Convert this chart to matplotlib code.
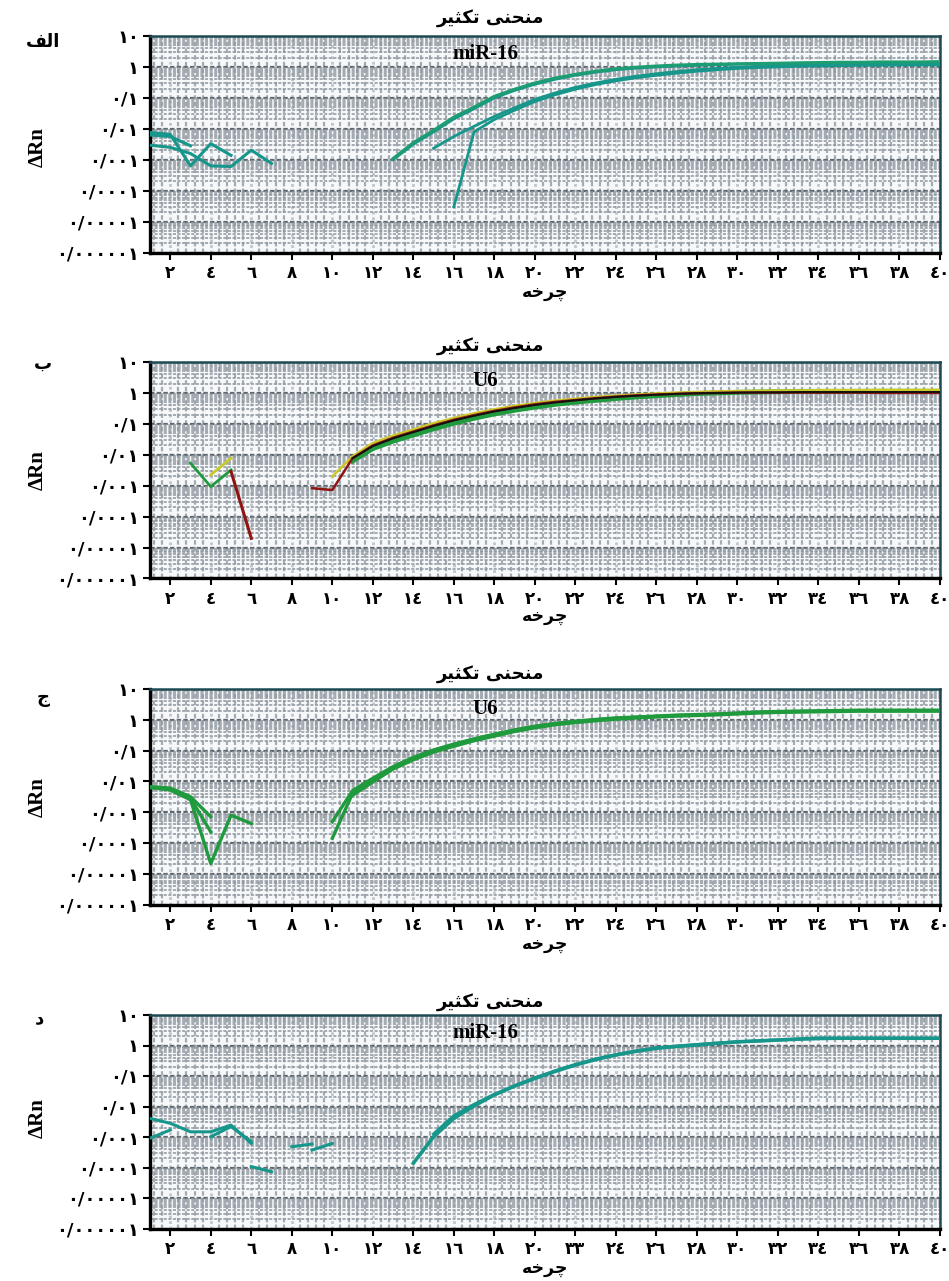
import numpy as np
import matplotlib
matplotlib.use('Agg')
import matplotlib.pyplot as plt
from matplotlib.ticker import FixedLocator, MultipleLocator, NullFormatter

plt.rcParams['font.family'] = ['Liberation Serif', 'DejaVu Sans']

# ---------------- text ----------------
title_text = 'منحنی تکثیر'
xlabel_text = 'چرخه'
ylabel_text = 'ΔRn'
panel_letters = ['الف', 'ب', 'ج', 'د']
gene_names = ['miR-16', 'U6', 'U6', 'miR-16']

y_tick_values = [1e-6, 1e-5, 1e-4, 1e-3, 1e-2, 1e-1, 1, 10]
y_tick_labels = ['٠/٠٠٠٠٠١', '٠/٠٠٠٠١', '٠/٠٠٠١', '٠/٠٠١', '٠/٠١', '٠/١', '١', '١٠']
x_tick_values = [2, 4, 6, 8, 10, 12, 14, 16, 18, 20, 22, 24, 26, 28, 30, 32, 34, 36, 38, 40]
x_tick_labels = ['٢', '٤', '٦', '٨', '١٠', '١٢', '١٤', '١٦', '١٨', '٢٠', '٢٢', '٢٤',
                 '٢٦', '٢٨', '٣٠', '٣٢', '٣٤', '٣٦', '٣٨', '٤٠']
x_tick_labels_d = ['٢', '٤', '٦', '٨', '١٠', '١٢', '١٤', '١٦', '١٨', '٢٠', '٣٣', '٢٤',
                   '٢٦', '٢٨', '٣٠', '٣٢', '٣٤', '٣٦', '٣٨', '٤٠']

# ---------------- data (log10 of ΔRn) ----------------
# Panel الف (miR-16)
a_n1_c = [1, 2, 3, 4, 5];            a_n1_v = [-2.12, -2.18, -3.2, -2.48, -2.86]
a_n2_c = [1, 2, 3, 4, 5, 6, 7];      a_n2_v = [-2.53, -2.6, -2.8, -3.2, -3.22, -2.69, -3.12]
a_n3_c = [1, 2, 3];                  a_n3_v = [-2.2, -2.25, -2.55]
a_up1_c = list(range(13, 41))
a_up1_v = [-2.96, -2.45, -2.05, -1.62, -1.3, -0.95, -0.72, -0.52, -0.36, -0.24, -0.14, -0.06,
           -0.01, 0.03, 0.06, 0.08, 0.09, 0.10, 0.11, 0.12, 0.13, 0.14, 0.15, 0.15, 0.16, 0.16,
           0.16, 0.17]
a_up2_c = list(range(13, 41))
a_up2_v = [-3.0, -2.5, -2.1, -1.68, -1.35, -1.0, -0.76, -0.56, -0.4, -0.27, -0.17, -0.09,
           -0.04, 0.0, 0.03, 0.05, 0.07, 0.09, 0.10, 0.11, 0.12, 0.13, 0.14, 0.14, 0.15, 0.15,
           0.15, 0.15]
a_lo1_c = list(range(15, 41))
a_lo1_v = [-2.63, -2.25, -1.92, -1.6, -1.32, -1.05, -0.84, -0.66, -0.52, -0.4, -0.3, -0.22,
           -0.15, -0.09, -0.05, -0.01, 0.02, 0.04, 0.06, 0.07, 0.08, 0.08, 0.09, 0.09, 0.09, 0.09]
a_lo2_c = list(range(16, 41))
a_lo2_v = [-4.52, -2.1, -1.7, -1.4, -1.12, -0.9, -0.72, -0.57, -0.45, -0.35, -0.27, -0.2,
           -0.14, -0.09, -0.05, -0.02, 0.0, 0.02, 0.03, 0.04, 0.05, 0.05, 0.06, 0.06, 0.06]

# Panel ب (U6, four colours)
b_gn_c = [3, 4, 5];   b_gn_v = [-2.27, -3.03, -2.49]
b_yn_c = [4, 5];      b_yn_v = [-2.65, -2.11]
b_rn_c = [5, 6];      b_rn_v = [-2.54, -4.70]
b_red_c = list(range(9, 41))
b_red_v = [-3.08, -3.14, -2.11, -1.7, -1.45, -1.25, -1.05, -0.87, -0.72, -0.58, -0.47, -0.37,
           -0.29, -0.23, -0.17, -0.12, -0.08, -0.05, -0.03, -0.01, 0.0, 0.01, 0.01, 0.01, 0.01,
           0.01, 0.01, 0.01, 0.0, 0.0, 0.0, 0.0]
b_blk_c = list(range(11, 41))
b_blk_v = [-2.11, -1.72, -1.47, -1.27, -1.07, -0.89, -0.74, -0.6, -0.49, -0.39, -0.31, -0.24,
           -0.18, -0.13, -0.09, -0.06, -0.03, -0.01, 0.0, 0.01, 0.02, 0.02, 0.03, 0.03, 0.03,
           0.03, 0.03, 0.03, 0.03, 0.03]
b_yel_c = list(range(10, 41))
b_yel_v = [-2.7, -2.05, -1.62, -1.38, -1.18, -0.98, -0.81, -0.66, -0.53, -0.42, -0.33, -0.25,
           -0.19, -0.13, -0.09, -0.05, -0.02, 0.01, 0.03, 0.05, 0.06, 0.07, 0.08, 0.08, 0.09,
           0.09, 0.09, 0.1, 0.1, 0.1, 0.1]
b_grn_c = list(range(11, 41))
b_grn_v = [-2.2, -1.8, -1.56, -1.36, -1.16, -0.98, -0.82, -0.68, -0.56, -0.46, -0.37, -0.3,
           -0.24, -0.18, -0.13, -0.09, -0.05, -0.02, 0.0, 0.02, 0.03, 0.04, 0.05, 0.05, 0.05,
           0.05, 0.05, 0.05, 0.05, 0.05]

# Panel ج (U6)
c_n1_c = [1, 2, 3, 4];        c_n1_v = [-2.17, -2.22, -2.5, -3.15]
c_n2_c = [1, 2, 3, 4];        c_n2_v = [-2.2, -2.25, -2.55, -3.64]
c_n3_c = [1, 2, 3, 4, 5, 6];  c_n3_v = [-2.2, -2.28, -2.6, -4.67, -3.1, -3.37]
c_a1_c = list(range(10, 41))
c_a1_v = [-3.85, -2.39, -1.95, -1.55, -1.25, -1.0, -0.81, -0.63, -0.49, -0.34, -0.22, -0.13,
          -0.06, 0.0, 0.05, 0.08, 0.11, 0.14, 0.16, 0.18, 0.21, 0.24, 0.26, 0.27, 0.28, 0.29,
          0.30, 0.30, 0.30, 0.30, 0.30]
c_a2_c = list(range(10, 41))
c_a2_v = [-3.31, -2.3, -1.9, -1.52, -1.22, -0.98, -0.79, -0.62, -0.47, -0.33, -0.21, -0.12,
          -0.05, 0.01, 0.06, 0.09, 0.12, 0.15, 0.17, 0.19, 0.22, 0.25, 0.27, 0.28, 0.29, 0.30,
          0.31, 0.31, 0.31, 0.31, 0.31]
c_a3_c = list(range(11, 41))
c_a3_v = [-2.45, -2.02, -1.6, -1.3, -1.05, -0.86, -0.68, -0.53, -0.38, -0.26, -0.16, -0.09,
          -0.03, 0.02, 0.06, 0.09, 0.12, 0.14, 0.16, 0.19, 0.22, 0.24, 0.25, 0.26, 0.27, 0.28,
          0.28, 0.28, 0.28, 0.28]

# Panel د (miR-16)
d_n1_c = [1, 2, 3, 4, 5, 6];  d_n1_v = [-2.39, -2.55, -2.83, -2.83, -2.61, -3.21]
d_n2_c = [1, 2];              d_n2_v = [-3.04, -2.77]
d_n3_c = [4, 5, 6];           d_n3_v = [-2.99, -2.66, -3.15]
d_n4_c = [6, 7];              d_n4_v = [-3.97, -4.14]
d_n5_c = [8, 9];              d_n5_v = [-3.32, -3.23]
d_n6_c = [9, 10];             d_n6_v = [-3.43, -3.21]
d_a1_c = list(range(14, 41))
d_a1_v = [-3.86, -2.99, -2.39, -1.98, -1.62, -1.33, -1.08, -0.85, -0.64, -0.46, -0.31, -0.19,
          -0.09, -0.03, 0.02, 0.07, 0.12, 0.15, 0.18, 0.21, 0.24, 0.24, 0.24, 0.24, 0.24, 0.24,
          0.24]
d_a2_c = list(range(15, 41))
d_a2_v = [-2.9, -2.3, -1.93, -1.6, -1.32, -1.06, -0.83, -0.62, -0.44, -0.3, -0.18, -0.08,
          -0.02, 0.03, 0.08, 0.12, 0.15, 0.18, 0.21, 0.22, 0.23, 0.23, 0.23, 0.23, 0.23, 0.23]

# ---------------- colours ----------------
TEAL = '#17978c'
TEAL_G = '#1c9d72'
GREEN = '#1f9a3c'
YELLOW = '#c9c92a'
DRED = '#8e1512'
BLACK = '#111111'

panels = [
    [(a_n1_c, a_n1_v, TEAL, 2.2), (a_n2_c, a_n2_v, TEAL, 2.2), (a_n3_c, a_n3_v, TEAL, 2.2),
     (a_lo1_c, a_lo1_v, TEAL, 2.0), (a_lo2_c, a_lo2_v, TEAL, 2.0),
     (a_up2_c, a_up2_v, TEAL, 2.0), (a_up1_c, a_up1_v, TEAL_G, 2.2)],
    [(b_gn_c, b_gn_v, GREEN, 2.0), (b_yn_c, b_yn_v, YELLOW, 2.0), (b_rn_c, b_rn_v, DRED, 2.2),
     (b_grn_c, b_grn_v, GREEN, 3.5), (b_yel_c, b_yel_v, YELLOW, 1.8),
     (b_red_c, b_red_v, DRED, 1.8), (b_blk_c, b_blk_v, BLACK, 1.4)],
    [(c_n1_c, c_n1_v, GREEN, 2.4), (c_n2_c, c_n2_v, GREEN, 2.4), (c_n3_c, c_n3_v, GREEN, 2.4),
     (c_a1_c, c_a1_v, GREEN, 2.4), (c_a2_c, c_a2_v, GREEN, 2.4), (c_a3_c, c_a3_v, GREEN, 2.4)],
    [(d_n1_c, d_n1_v, TEAL, 2.2), (d_n2_c, d_n2_v, TEAL, 2.2), (d_n3_c, d_n3_v, TEAL, 2.2),
     (d_n4_c, d_n4_v, TEAL, 2.2), (d_n5_c, d_n5_v, TEAL, 2.2), (d_n6_c, d_n6_v, TEAL, 2.2),
     (d_a1_c, d_a1_v, TEAL, 2.6), (d_a2_c, d_a2_v, TEAL, 2.2)],
]

# ---------------- minimal Persian shaping (presentation forms, visual order) ----------------
FORMS = {
    'ا': ('\uFE8D', '\uFE8E', None, None),
    'ب': ('\uFE8F', '\uFE90', '\uFE91', '\uFE92'),
    'ت': ('\uFE95', '\uFE96', '\uFE97', '\uFE98'),
    'ث': ('\uFE99', '\uFE9A', '\uFE9B', '\uFE9C'),
    'ج': ('\uFE9D', '\uFE9E', '\uFE9F', '\uFEA0'),
    'ح': ('\uFEA1', '\uFEA2', '\uFEA3', '\uFEA4'),
    'خ': ('\uFEA5', '\uFEA6', '\uFEA7', '\uFEA8'),
    'د': ('\uFEA9', '\uFEAA', None, None),
    'ر': ('\uFEAD', '\uFEAE', None, None),
    'ف': ('\uFED1', '\uFED2', '\uFED3', '\uFED4'),
    'ل': ('\uFEDD', '\uFEDE', '\uFEDF', '\uFEE0'),
    'م': ('\uFEE1', '\uFEE2', '\uFEE3', '\uFEE4'),
    'ن': ('\uFEE5', '\uFEE6', '\uFEE7', '\uFEE8'),
    'ه': ('\uFEE9', '\uFEEA', '\uFEEB', '\uFEEC'),
    'چ': ('\uFB7A', '\uFB7B', '\uFB7C', '\uFB7D'),
    'ک': ('\uFB8E', '\uFB8F', '\uFB90', '\uFB91'),
    'ی': ('\uFBFC', '\uFBFD', '\uFBFE', '\uFBFF'),
}


def shape(text):
    chars = list(text)
    out = []
    for i, ch in enumerate(chars):
        if ch not in FORMS:
            out.append(ch)
            continue
        iso, fin, ini, med = FORMS[ch]
        prev = chars[i - 1] if i > 0 else None
        nxt = chars[i + 1] if i + 1 < len(chars) else None
        jp = prev in FORMS and FORMS[prev][2] is not None
        jn = ini is not None and nxt in FORMS
        if jp and jn:
            out.append(med)
        elif jp:
            out.append(fin)
        elif jn:
            out.append(ini)
        else:
            out.append(iso)
    return ''.join(reversed(out))


# ---------------- figure ----------------
W, H = 949, 1281
fig = plt.figure(figsize=(W / 100, H / 100), dpi=100)
fig.patch.set_facecolor('white')

axes_px = [(36, 252.5), (362, 578.5), (689, 904.5), (1015, 1228.5)]
left_px, right_px = 150, 940
title_y = [18, 346, 674, 1002]
gene_y = [54, 381, 709, 1033]
letter_pos = [(43, 42), (43, 364), (43, 698), (40, 1018)]
ylabel_y = [147, 470, 797, 1118]
xlabel_y = [292, 616, 944, 1268]

ARFONT = ['DejaVu Sans']
for k in range(4):
    top, bot = axes_px[k]
    ax = fig.add_axes([left_px / W, 1 - bot / H, (right_px - left_px) / W, (bot - top) / H])
    ax.set_facecolor('#f7f8f9')
    ax.set_yscale('log')
    ax.set_xlim(1, 40)
    ax.set_ylim(1e-6, 10)

    minor_y = [m * 10.0 ** e for e in range(-6, 1) for m in range(2, 10)]
    ax.yaxis.set_minor_locator(FixedLocator(minor_y))
    ax.yaxis.set_minor_formatter(NullFormatter())
    ax.xaxis.set_minor_locator(MultipleLocator(0.4))

    ax.grid(which='minor', axis='x', color='#a3abb3', linestyle=(0, (2.0, 1.0)), linewidth=1.6)
    ax.grid(which='minor', axis='y', color='#8e969e', linestyle=(0, (2.0, 1.0)), linewidth=1.1)
    ax.grid(which='major', axis='y', color='#5f676f', linestyle=(0, (2.0, 1.0)), linewidth=1.6)
    ax.grid(which='major', axis='x', color='#c0c6cc', linestyle=(0, (1, 1)), linewidth=2.0)
    ax.set_axisbelow(True)

    ax.set_yticks(y_tick_values)
    ax.set_yticklabels(y_tick_labels, fontsize=13, fontweight='bold', family=ARFONT)
    ax.set_xticks(x_tick_values)
    ax.set_xticklabels(x_tick_labels_d if k == 3 else x_tick_labels, fontsize=12,
                       fontweight='bold', family=ARFONT)
    ax.tick_params(axis='both', which='major', direction='out', length=5, width=1.5,
                   color='black', pad=3)
    ax.tick_params(axis='both', which='minor', length=0)

    for s in ['left', 'bottom']:
        ax.spines[s].set_color('black')
        ax.spines[s].set_linewidth(2.4)
    for s in ['top', 'right']:
        ax.spines[s].set_color('#1d4a52')
        ax.spines[s].set_linewidth(1.8)

    for cyc, vals, col, lw in panels[k]:
        ax.plot(cyc, np.power(10.0, np.array(vals)), color=col, linewidth=lw,
                solid_joinstyle='round', zorder=3, clip_on=True)

    # texts
    fig.text(490 / W, 1 - title_y[k] / H, shape(title_text), ha='center', va='center',
             fontsize=13, fontweight='bold', family=ARFONT)
    fig.text(485 / W, 1 - gene_y[k] / H, gene_names[k], ha='center', va='center',
             fontsize=15, fontweight='bold', family=['Liberation Serif'])
    fig.text(letter_pos[k][0] / W, 1 - letter_pos[k][1] / H, shape(panel_letters[k]),
             ha='center', va='center', fontsize=13, fontweight='bold', family=ARFONT)
    fig.text(38 / W, 1 - ylabel_y[k] / H, ylabel_text, ha='center', va='center',
             rotation=90, fontsize=15, fontweight='bold', family=['Liberation Serif'])
    fig.text(545 / W, 1 - xlabel_y[k] / H, shape(xlabel_text), ha='center', va='center',
             fontsize=12.5, fontweight='bold', family=ARFONT)

fig.savefig('out.png', dpi=100)
